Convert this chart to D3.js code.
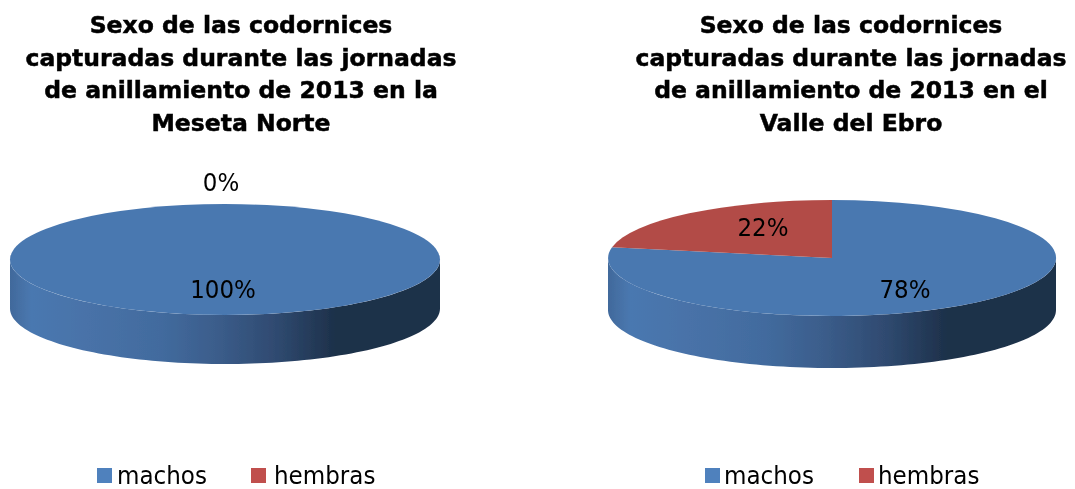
<!DOCTYPE html>
<html>
<head>
<meta charset="utf-8">
<script src="https://cdn.jsdelivr.net/npm/d3@7"></script>
<style>
  html, body { margin: 0; padding: 0; background: #fff; }
  svg { display: block; }
  text { fill: #000; font-family: "DejaVu Sans", sans-serif; }
  .title { font-weight: bold; font-size: 23.5px; stroke: #000; stroke-width: 0.5px; }
  .label { font-size: 25.5px; font-stretch: condensed; }
  .legend { font-size: 25.6px; font-stretch: condensed; }
</style>
</head>
<body>
<svg id="chart" width="1075" height="489"></svg>
<script>
var categories = ["machos", "hembras"];
var valuesNorte = [100, 0];
var valuesEbro = [78, 22];
var titleNorte = ["Sexo de las codornices", "capturadas durante las jornadas", "de anillamiento de 2013 en la", "Meseta Norte"];
var titleEbro = ["Sexo de las codornices", "capturadas durante las jornadas", "de anillamiento de 2013 en el", "Valle del Ebro"];

var topColor = d3.scaleOrdinal().domain(categories).range(["#4a78b0", "#b24c47"]);
var keyColor = d3.scaleOrdinal().domain(categories).range(["#4f81bd", "#c0504d"]);

var width = 1075, height = 489;
var svg = d3.select("#chart").attr("viewBox", "0 0 " + width + " " + height);
var defs = svg.append("defs");

defs.append("filter").attr("id", "soft")
  .append("feGaussianBlur").attr("stdDeviation", 0.45);

// dark band round the front of the disc
var wall = defs.append("linearGradient").attr("id", "wall");
[[0, "#41699b"], [0.05, "#4a78b0"], [0.18, "#4872a8"], [0.35, "#426b9e"], [0.48, "#3b5d8b"],
 [0.62, "#2f4a70"], [0.76, "#1d3049"], [1, "#1e3149"]].forEach(function(s) {
  wall.append("stop").attr("offset", s[0]).attr("stop-color", s[1]);
});

var pie = d3.pie().sort(null).value(function(d) { return d; });
var arc = d3.arc().innerRadius(0).outerRadius(1);

function drawPanel(p) {
  var g = svg.append("g").attr("filter", "url(#soft)");

  var title = g.append("text").attr("class", "title").attr("text-anchor", "middle");
  p.title.forEach(function(line, i) {
    title.append("tspan").attr("x", p.titleX).attr("y", 33 + i * 32.6).text(line);
  });

  // front wall: lower half of the rim, pushed down by the depth
  var rim = d3.range(0, 1.001, 0.01).map(function(t) {
    var a = Math.PI * t;
    return [p.cx + p.rx * Math.cos(a), p.cy + p.ry * Math.sin(a)];
  });
  var lower = rim.map(function(d) { return [d[0], d[1] + p.depth]; }).reverse();
  g.append("path")
    .attr("d", d3.line()(lower.concat(rim)) + "Z")
    .attr("fill", "url(#wall)");

  // top face: unit pie squashed to the ellipse
  g.append("g")
    .attr("transform", "translate(" + p.cx + "," + p.cy + ") scale(" + p.rx + "," + p.ry + ")")
    .selectAll("path")
    .data(pie(p.values))
    .join("path")
    .attr("d", arc)
    .attr("fill", function(d, i) { return topColor(categories[i]); });

  g.selectAll(".label")
    .data(p.values)
    .join("text")
    .attr("class", "label")
    .attr("text-anchor", "middle")
    .attr("x", function(d, i) { return p.labelX[i]; })
    .attr("y", function(d, i) { return p.labelY[i]; })
    .text(function(d) { return d + "%"; });

  categories.forEach(function(c, i) {
    g.append("rect")
      .attr("x", p.keyX[i]).attr("y", 468)
      .attr("width", 15).attr("height", 15)
      .attr("fill", keyColor(c));
    g.append("text")
      .attr("class", "legend")
      .attr("x", p.keyTextX[i]).attr("y", 484)
      .text(c);
  });
}

drawPanel({
  title: titleNorte, titleX: 241, values: valuesNorte,
  cx: 225, cy: 259.5, rx: 215, ry: 55.5, depth: 49,
  labelX: [223, 221], labelY: [298, 191], keyX: [97, 251], keyTextX: [117, 274]
});
drawPanel({
  title: titleEbro, titleX: 851, values: valuesEbro,
  cx: 832, cy: 258, rx: 224, ry: 58, depth: 52,
  labelX: [905, 763], labelY: [298, 236], keyX: [705, 859], keyTextX: [724, 878]
});
</script>
</body>
</html>
